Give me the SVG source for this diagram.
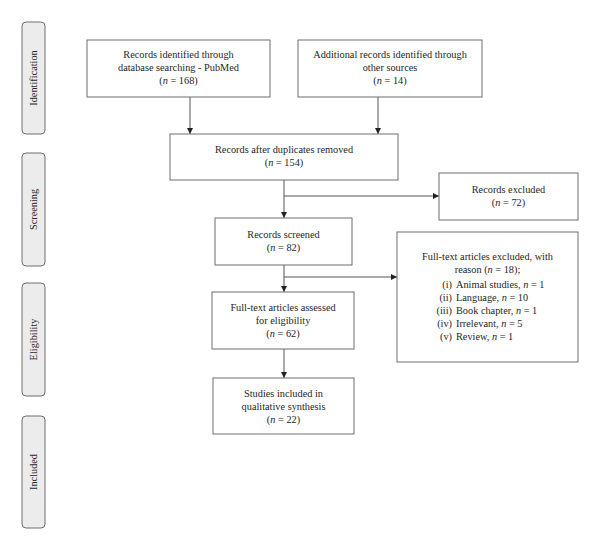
<svg xmlns="http://www.w3.org/2000/svg" width="600" height="550" viewBox="0 0 600 550">
<defs>
<style>
.box{fill:#fff;stroke:#6e6e6e;stroke-width:1}
.side{fill:#ececec;stroke:#6e6e6e;stroke-width:1}
text{font-family:"Liberation Serif","Times New Roman",serif;font-size:10.3px;fill:#262626}
.c{text-anchor:middle}
.r{text-anchor:end}
.con{stroke:#555;stroke-width:1;fill:none}
</style>
<marker id="ah" viewBox="0 0 6 6" refX="6" refY="3" markerWidth="6" markerHeight="6" orient="auto" markerUnits="userSpaceOnUse">
<path d="M0,0 L6,3 L0,6 z" fill="#222"/>
</marker>
</defs>
<rect width="600" height="550" fill="#fff"/>

<g id="stage-identification"><rect class="side" x="22" y="22" width="23" height="112" rx="4"/><text class="c" transform="translate(36.5,78) rotate(-90)">Identification</text></g>
<g id="stage-screening"><rect class="side" x="22" y="153" width="23" height="113" rx="4"/><text class="c" transform="translate(36.5,209.5) rotate(-90)">Screening</text></g>
<g id="stage-eligibility"><rect class="side" x="22" y="283" width="23" height="113" rx="4"/><text class="c" transform="translate(36.5,339.5) rotate(-90)">Eligibility</text></g>
<g id="stage-included"><rect class="side" x="22" y="416" width="23" height="112" rx="4"/><text class="c" transform="translate(36.5,472) rotate(-90)">Included</text></g>

<g id="connectors">
<line class="con" x1="190" y1="97" x2="190" y2="134" marker-end="url(#ah)"/>
<line class="con" x1="378" y1="97" x2="378" y2="134" marker-end="url(#ah)"/>
<line class="con" x1="284" y1="180" x2="284" y2="218" marker-end="url(#ah)"/>
<line class="con" x1="284" y1="196" x2="439" y2="196" marker-end="url(#ah)"/>
<line class="con" x1="284" y1="265" x2="284" y2="292" marker-end="url(#ah)"/>
<line class="con" x1="284" y1="277" x2="397" y2="277" marker-end="url(#ah)"/>
<line class="con" x1="284" y1="349" x2="284" y2="378" marker-end="url(#ah)"/>
</g>

<g id="n-pubmed"><rect class="box" x="87" y="40" width="183" height="57"/>
<text class="c" x="178.5" y="58">Records identified through</text>
<text class="c" x="178.5" y="71">database searching - PubMed</text>
<text class="c" x="178.5" y="84">(<tspan font-style="italic">n</tspan> = 168)</text></g>

<g id="n-other"><rect class="box" x="298" y="40" width="184" height="57"/>
<text class="c" x="390" y="58">Additional records identified through</text>
<text class="c" x="390" y="71">other sources</text>
<text class="c" x="390" y="84">(<tspan font-style="italic">n</tspan> = 14)</text></g>

<g id="n-dups"><rect class="box" x="170" y="134" width="228" height="46"/>
<text class="c" x="284" y="153">Records after duplicates removed</text>
<text class="c" x="284" y="166">(<tspan font-style="italic">n</tspan> = 154)</text></g>

<g id="n-excluded"><rect class="box" x="439" y="173" width="139" height="47"/>
<text class="c" x="508.5" y="193">Records excluded</text>
<text class="c" x="508.5" y="206">(<tspan font-style="italic">n</tspan> = 72)</text></g>

<g id="n-screened"><rect class="box" x="215" y="218" width="137" height="47"/>
<text class="c" x="283.5" y="238">Records screened</text>
<text class="c" x="283.5" y="251">(<tspan font-style="italic">n</tspan> = 82)</text></g>

<g id="n-ft-excluded"><rect class="box" x="397" y="232" width="181" height="130"/>
<text class="c" x="487.5" y="260">Full-text articles excluded, with</text>
<text class="c" x="487.5" y="273">reason (<tspan font-style="italic">n</tspan> = 18);</text>
<text class="r" x="452" y="288">(i)</text><text x="456" y="288">Animal studies, <tspan font-style="italic">n</tspan> = 1</text>
<text class="r" x="452" y="301">(ii)</text><text x="456" y="301">Language, <tspan font-style="italic">n</tspan> = 10</text>
<text class="r" x="452" y="314">(iii)</text><text x="456" y="314">Book chapter, <tspan font-style="italic">n</tspan> = 1</text>
<text class="r" x="452" y="327">(iv)</text><text x="456" y="327">Irrelevant, <tspan font-style="italic">n</tspan> = 5</text>
<text class="r" x="452" y="340">(v)</text><text x="456" y="340">Review, <tspan font-style="italic">n</tspan> = 1</text></g>

<g id="n-assessed"><rect class="box" x="212" y="292" width="142" height="57"/>
<text class="c" x="283" y="311">Full-text articles assessed</text>
<text class="c" x="283" y="324">for eligibility</text>
<text class="c" x="283" y="337">(<tspan font-style="italic">n</tspan> = 62)</text></g>

<g id="n-included"><rect class="box" x="213" y="378" width="141" height="56"/>
<text class="c" x="283.5" y="397">Studies included in</text>
<text class="c" x="283.5" y="410">qualitative synthesis</text>
<text class="c" x="283.5" y="423">(<tspan font-style="italic">n</tspan> = 22)</text></g>
</svg>
